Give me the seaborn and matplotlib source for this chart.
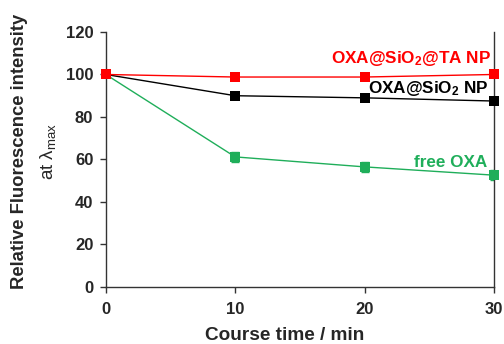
import matplotlib
matplotlib.use("Agg")
import matplotlib.pyplot as plt
import seaborn as sns
import pandas as pd

time = [0, 10, 20, 30]
ta_np = [100, 98.8, 98.8, 100]
sio2_np = [100, 90, 89, 87.5]
free_oxa = [100, 61.2, 56.5, 52.6]
free_err = [0, 2.2, 2.2, 2.2]

sns.set_style("white")
plt.rcParams['font.family'] = ['Liberation Sans', 'DejaVu Sans']
plt.rcParams['mathtext.fontset'] = 'custom'
plt.rcParams['mathtext.rm'] = 'Liberation Sans'
plt.rcParams['mathtext.it'] = 'Liberation Sans'
plt.rcParams['mathtext.bf'] = 'Liberation Sans:bold'

fig = plt.figure(figsize=(5.04, 3.44), dpi=100)
ax = fig.add_axes([0.21, 0.166, 0.77, 0.741])

df = pd.DataFrame({
    "time": time * 3,
    "val": ta_np + sio2_np + free_oxa,
    "series": ["ta"] * 4 + ["sio2"] * 4 + ["free"] * 4,
})
colors = {"ta": "#ff0000", "sio2": "#000000", "free": "#1fae5a"}

ax.errorbar(time, free_oxa, yerr=free_err, fmt='none', ecolor=colors["free"],
            elinewidth=1.2, capsize=3, zorder=2)
for s in ["free", "sio2", "ta"]:
    sub = df[df.series == s]
    sns.lineplot(data=sub, x="time", y="val", ax=ax, color=colors[s],
                 marker="s", markersize=7, markeredgewidth=0, linewidth=1,
                 clip_on=False, zorder=3)

ax.set_xlim(0, 30)
ax.set_ylim(0, 120)
ax.set_xticks([0, 10, 20, 30])
ax.set_yticks(range(0, 121, 20))
ax.tick_params(axis='both', direction='out', length=4, width=1, labelsize=12,
               color='#333333', left=True, bottom=True)
for lab in ax.get_xticklabels() + ax.get_yticklabels():
    lab.set_fontweight('bold')
ax.tick_params(axis='x', pad=7)
ax.tick_params(axis='y', pad=5)
for side in ['left', 'right', 'bottom']:
    ax.spines[side].set_visible(True)
    ax.spines[side].set_color('#333333')
    ax.spines[side].set_linewidth(1)
ax.spines['top'].set_visible(False)

ax.set_xlabel("")
ax.set_ylabel("")
fig.text(285 / 504, 1 - 336 / 344, "Course time / min", ha='center', va='center',
         fontsize=13.7, fontweight='bold')
fig.text(20 / 504, 1 - 151 / 344, "Relative Fluorescence intensity", rotation=90,
         ha='center', va='center', fontsize=13.3, fontweight='bold')
fig.text(48 / 504, 1 - 152 / 344, r"at $\lambda_{\mathrm{max}}$", rotation=90,
         ha='center', va='center', fontsize=13.5)

ax.text(29.8, 107.5, r"OXA@SiO$_\mathbf{2}$@TA NP", color=colors["ta"], ha='right',
        va='center', fontsize=12.3, fontweight='bold')
ax.text(29.6, 93.5, r"OXA@SiO$_\mathbf{2}$ NP", color=colors["sio2"], ha='right',
        va='center', fontsize=12.3, fontweight='bold')
ax.text(29.5, 58.5, "free OXA", color=colors["free"], ha='right',
        va='center', fontsize=12.3, fontweight='bold')

fig.savefig("out.png", dpi=100)
